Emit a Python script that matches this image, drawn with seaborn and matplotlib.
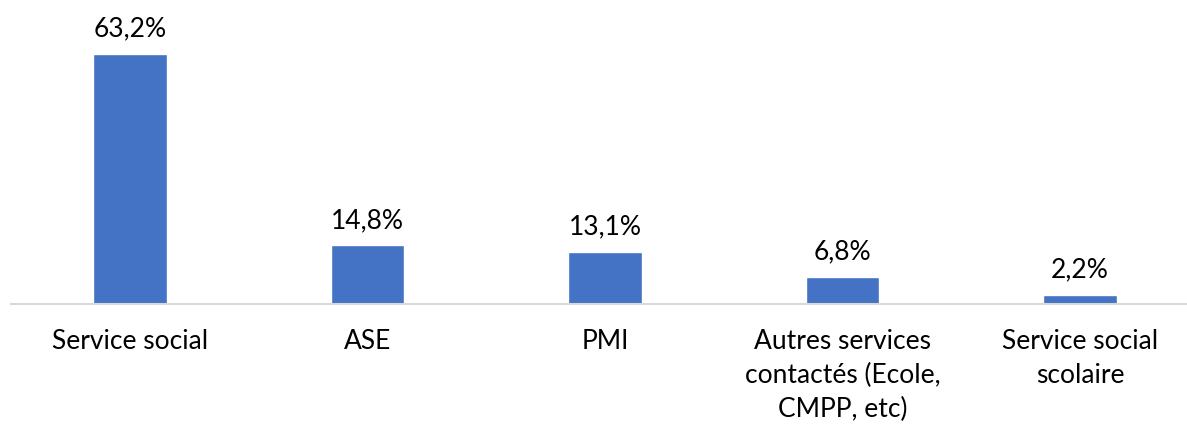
import matplotlib
matplotlib.use("Agg")
import matplotlib.pyplot as plt
import seaborn as sns
import pandas as pd

categories = [
    "Service social",
    "ASE",
    "PMI",
    "Autres services\ncontactés (Ecole,\nCMPP, etc)",
    "Service social\nscolaire",
]
values = [63.2, 14.8, 13.1, 6.8, 2.2]
value_labels = ["63,2%", "14,8%", "13,1%", "6,8%", "2,2%"]

BAR_COLOR = "#4472C4"
FONT_SIZE = 19

sns.set_theme(style="white")
plt.rcParams["font.family"] = ["Lato", "DejaVu Sans"]

df = pd.DataFrame({"categorie": categories, "valeur": values})

fig = plt.figure(figsize=(11.87, 4.25), dpi=100)
ax = fig.add_axes([11 / 1187, 1 - 304 / 425, 1176 / 1187, 277 / 425])

sns.barplot(data=df, x="categorie", y="valeur", color=BAR_COLOR, width=0.31,
            saturation=1, ax=ax)

# étiquettes de valeur au-dessus des barres
for i, (v, lab) in enumerate(zip(values, value_labels)):
    ax.annotate(lab, (i, v), xytext=(0, 9), textcoords="offset points",
                ha="center", va="bottom", fontsize=FONT_SIZE, color="#000000")

ax.set_xlim(-0.5, 4.45)
ax.set_ylim(0, 70)
ax.set_xlabel("")
ax.set_ylabel("")
ax.set_yticks([])
ax.tick_params(axis="x", length=0, pad=18, labelsize=FONT_SIZE, colors="#000000")
for t in ax.get_xticklabels():
    t.set_linespacing(1.45)
    t.set_va("top")

for side in ["left", "right", "top"]:
    ax.spines[side].set_visible(False)
ax.spines["bottom"].set_color("#D9D9D9")
ax.spines["bottom"].set_linewidth(1.5)

fig.savefig("out.png", dpi=100, facecolor="white")
